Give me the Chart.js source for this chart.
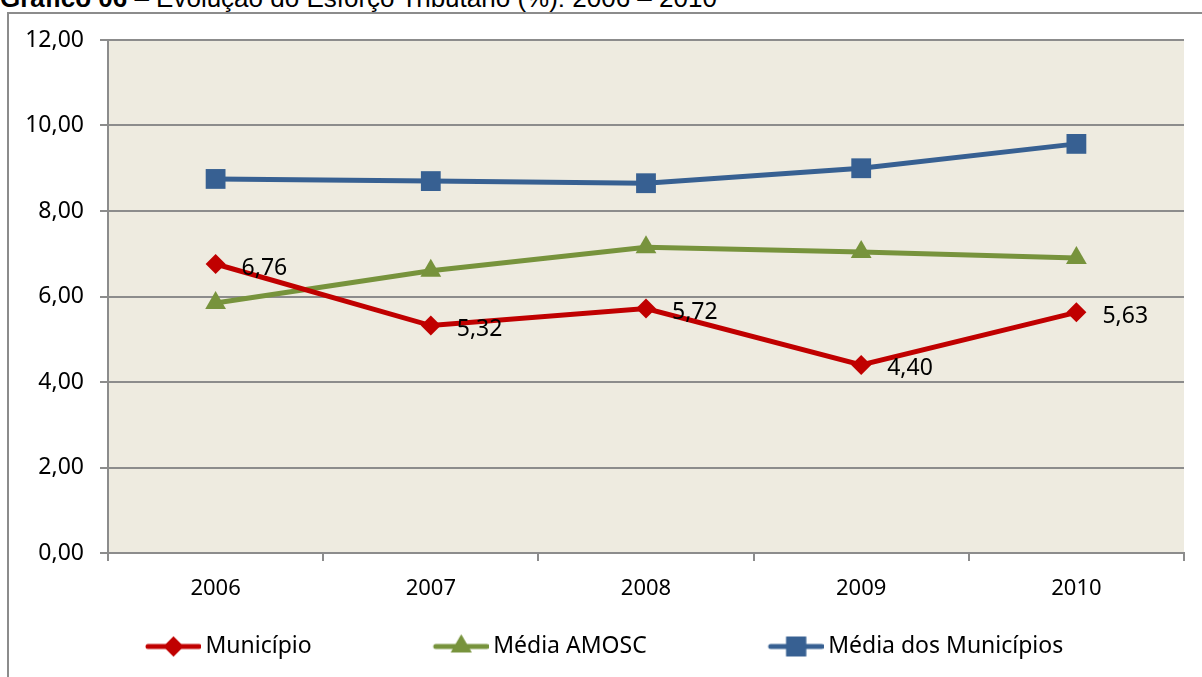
<!DOCTYPE html>
<html>
<head>
<meta charset="utf-8">
<script src="https://cdn.jsdelivr.net/npm/chart.js@4.4.0/dist/chart.umd.min.js"></script>
<style>
  html, body { margin: 0; padding: 0; background: #fff; overflow: hidden; }
  body { width: 1202px; height: 677px; position: relative; }
  #titulo {
    position: absolute; left: 0; top: -15px; white-space: nowrap;
    font-family: "Liberation Sans", Arial, sans-serif; font-size: 26px; line-height: 26px; color: #000;
  }
  #moldura {
    position: absolute; left: 7px; top: 12px; width: 1300px; height: 800px;
    border-left: 2px solid #8c8c8c; border-top: 2px solid #8c8c8c;
  }
  #wrap { position: absolute; left: 0; top: 0; width: 1202px; height: 677px; }
</style>
</head>
<body>
<div id="titulo"><b>Gráfico 06</b> – Evolução do Esforço Tributário (%): 2006 – 2010</div>
<div id="moldura"></div>
<div id="wrap"><canvas id="esforcoChart"></canvas></div>
<script>
var anos = ["2006", "2007", "2008", "2009", "2010"];
var municipio = [6.76, 5.32, 5.72, 4.40, 5.63];
var mediaAmosc = [5.85, 6.60, 7.15, 7.04, 6.90];
var mediaMunicipios = [8.75, 8.70, 8.65, 9.00, 9.57];

var fonte = "'Noto Sans', 'Open Sans', sans-serif";
var LARG_ICONE = 160; // pointStyleWidth of legend entries

function virgula(v) {
  return Number(v).toFixed(2).replace(".", ",");
}

// line + marker picture for the legend, with empty room on the left to space the entries
function iconeLegenda(cor, estilo, raio) {
  var c = document.createElement("canvas");
  c.width = LARG_ICONE + 14;
  c.height = 26;
  var g = c.getContext("2d");
  var ini = LARG_ICONE - 41;
  g.strokeStyle = cor;
  g.lineWidth = 5;
  g.lineCap = "round";
  g.beginPath();
  g.moveTo(ini + 2, 13);
  g.lineTo(ini + 53, 13);
  g.stroke();
  g.fillStyle = cor;
  Chart.helpers.drawPoint(g, { pointStyle: estilo, radius: raio, borderWidth: 0 }, ini + 27.5, 13);
  g.fill();
  return c;
}

var fundoPlot = {
  id: "fundoPlot",
  beforeDraw: function (chart) {
    var a = chart.chartArea;
    var ctx = chart.ctx;
    ctx.save();
    ctx.fillStyle = "#EEEBE0";
    ctx.fillRect(a.left, a.top, a.right - a.left, a.bottom - a.top);
    ctx.restore();
  },
};

var rotulos = {
  id: "rotulos",
  afterDatasetsDraw: function (chart) {
    var ctx = chart.ctx;
    var meta = chart.getDatasetMeta(0);
    ctx.save();
    ctx.font = "23px " + fonte;
    ctx.fillStyle = "#000";
    ctx.textAlign = "left";
    ctx.textBaseline = "middle";
    meta.data.forEach(function (p, i) {
      ctx.fillText(virgula(municipio[i]), p.x + 26, p.y + 4);
    });
    ctx.restore();
  },
};

var ctx = document.getElementById("esforcoChart").getContext("2d");
var esforcoChart = new Chart(ctx, {
  type: "line",
  plugins: [fundoPlot, rotulos],
  data: {
    labels: anos,
    datasets: [
      {
        label: "Município",
        data: municipio,
        borderColor: "#C00000",
        backgroundColor: "#C00000",
        borderWidth: 5,
        pointStyle: "rectRot",
        pointRadius: 10,
        pointBorderWidth: 0,
        icone: iconeLegenda("#C00000", "rectRot", 10),
      },
      {
        label: "Média AMOSC",
        data: mediaAmosc,
        borderColor: "#77933C",
        backgroundColor: "#77933C",
        borderWidth: 5,
        pointStyle: "triangle",
        pointRadius: 12,
        pointBorderWidth: 0,
        icone: iconeLegenda("#77933C", "triangle", 12),
      },
      {
        label: "Média dos Municípios",
        data: mediaMunicipios,
        borderColor: "#376092",
        backgroundColor: "#376092",
        borderWidth: 5,
        pointStyle: "rect",
        pointRadius: 14,
        pointBorderWidth: 0,
        icone: iconeLegenda("#376092", "rect", 14),
      },
    ],
  },
  options: {
    responsive: true,
    maintainAspectRatio: false,
    animation: false,
    layout: {
      padding: { left: 24, right: 18, top: 40, bottom: 9 },
    },
    plugins: {
      legend: {
        position: "bottom",
        align: "start",
        labels: {
          usePointStyle: true,
          pointStyleWidth: LARG_ICONE,
          padding: 10,
          color: "#000",
          font: { family: fonte, size: 23 },
          generateLabels: function (chart) {
            return chart.data.datasets.map(function (ds, i) {
              return {
                text: ds.label,
                pointStyle: ds.icone,
                fillStyle: ds.borderColor,
                strokeStyle: ds.borderColor,
                lineWidth: 0,
                hidden: false,
                datasetIndex: i,
              };
            });
          },
        },
      },
      title: { display: false },
      tooltip: { enabled: false },
    },
    scales: {
      x: {
        offset: true,
        afterFit: function (scale) {
          scale.height = 72;
        },
        grid: {
          offset: true,
          drawOnChartArea: false,
          drawTicks: true,
          tickLength: 8,
          color: "#8c8c8c",
          lineWidth: 2,
        },
        border: { color: "#8c8c8c", width: 2 },
        ticks: {
          color: "#000",
          padding: 15,
          font: { family: fonte, size: 22 },
        },
      },
      y: {
        min: 0,
        max: 12,
        afterFit: function (scale) {
          scale.width = 84;
        },
        grid: {
          color: "#8c8c8c",
          lineWidth: 2,
          tickLength: 8,
        },
        border: { color: "#8c8c8c", width: 2 },
        ticks: {
          stepSize: 2,
          color: "#000",
          padding: 16,
          font: { family: fonte, size: 23 },
          callback: function (v) {
            return virgula(v);
          },
        },
      },
    },
  },
});
</script>
</body>
</html>
